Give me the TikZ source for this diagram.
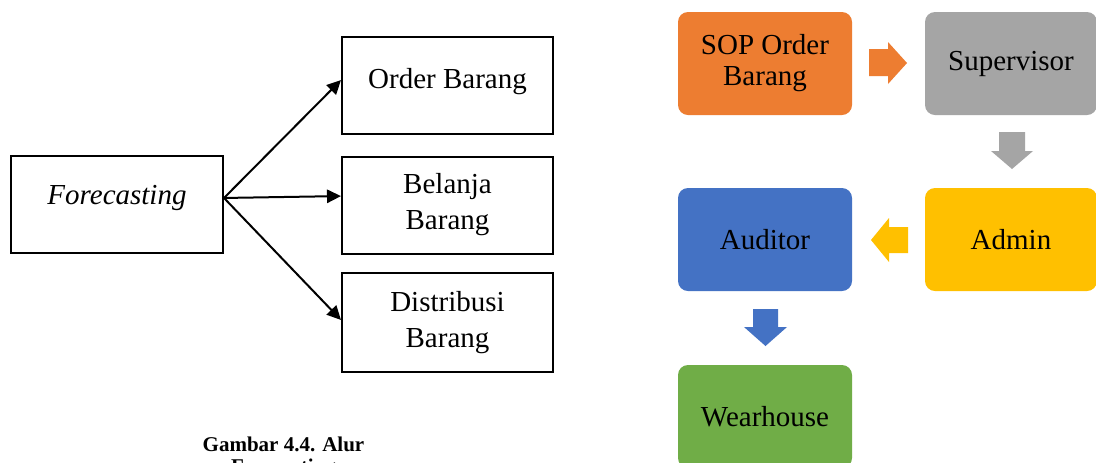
\documentclass[tikz,border=0pt]{standalone}
\usepackage{fontspec}
\setmainfont{Liberation Serif}
\usetikzlibrary{arrows.meta,calc}

\definecolor{smorange}{HTML}{ED7D31}
\definecolor{smgray}{HTML}{A5A5A5}
\definecolor{smyellow}{HTML}{FFC000}
\definecolor{smblue}{HTML}{4472C4}
\definecolor{smgreen}{HTML}{70AD47}

\tikzset{
  flowbox/.style={draw=black, line width=1.5pt, minimum width=158.25pt,
    minimum height=72.75pt, align=center, inner sep=0pt,
    font=\fontsize{21.75}{27}\selectfont},
  flowarrow/.style={line width=1.5pt, -{Triangle[length=10.5pt,width=10pt]}},
  stagebox/.style={rounded corners=7.5pt, minimum width=130.5pt,
    minimum height=77.25pt, align=center, inner sep=0pt, text=black,
    font=\fontsize{21.75}{23.25}\selectfont}
}

\begin{document}
\begin{tikzpicture}[x=0.75pt, y=-0.75pt]
\useasboundingbox (0,0) rectangle (1096,462);
\clip (0,0) rectangle (1096,462);
\fill[white] (0,0) rectangle (1096,462);

% ---- forecasting flow ----
\node[flowbox, minimum width=159pt] (fc) at (117,204.5)
  {\raisebox{0pt}[0pt][0pt]{\itshape Forecasting}};
\node[flowbox] (ob) at (447.5,85.5) {\raisebox{-2pt}[0pt][0pt]{Order Barang}};
\node[flowbox] (bb) at (447.5,205) {Belanja\\Barang};
\node[flowbox, minimum height=74.25pt] (db) at (447.5,322.5) {Distribusi\\Barang};

\coordinate (fco) at ([yshift=4.9pt]fc.east);
\draw[flowarrow] (fco) -- ([yshift=4.1pt]ob.west);
\draw[flowarrow] (fco) -- ([yshift=6.7pt]bb.west);
\draw[flowarrow] (fco) -- ([yshift=1.9pt]db.west);

\node[inner sep=0pt, anchor=north, align=center,
      font=\fontsize{15.75}{16.5}\selectfont\bfseries] (cap) at (283.5,437)
  {Gambar 4.4. Alur\\Forecasting};

% ---- approval stages ----
\node[stagebox, fill=smorange] (sop) at (765,63.5) {SOP Order\\Barang};
\node[stagebox, fill=smgray, minimum width=129pt] (sup) at (1011,63.5) {Supervisor};
\node[stagebox, fill=smyellow, minimum width=129pt] (adm) at (1011,239.5) {Admin};
\node[stagebox, fill=smblue] (aud) at (765,239.5) {Auditor};
\node[stagebox, fill=smgreen] (wh) at (765,416.5) {Wearhouse};

% block arrows between stages
\fill[smorange] (869,49) -- (888,49) -- (888,42) -- (907,63) -- (888,84)
  -- (888,76) -- (869,76) -- cycle;
\fill[smgray] (999,132) -- (1025,132) -- (1025,151) -- (1033,151)
  -- (1012,169) -- (991,151) -- (999,151) -- cycle;
\fill[smyellow] (908,227) -- (889,227) -- (889,218) -- (871,240)
  -- (889,262) -- (889,253) -- (908,253) -- cycle;
\fill[smblue] (753,309) -- (778,309) -- (778,327) -- (787,327)
  -- (765.5,346) -- (744,327) -- (753,327) -- cycle;
\end{tikzpicture}
\end{document}
